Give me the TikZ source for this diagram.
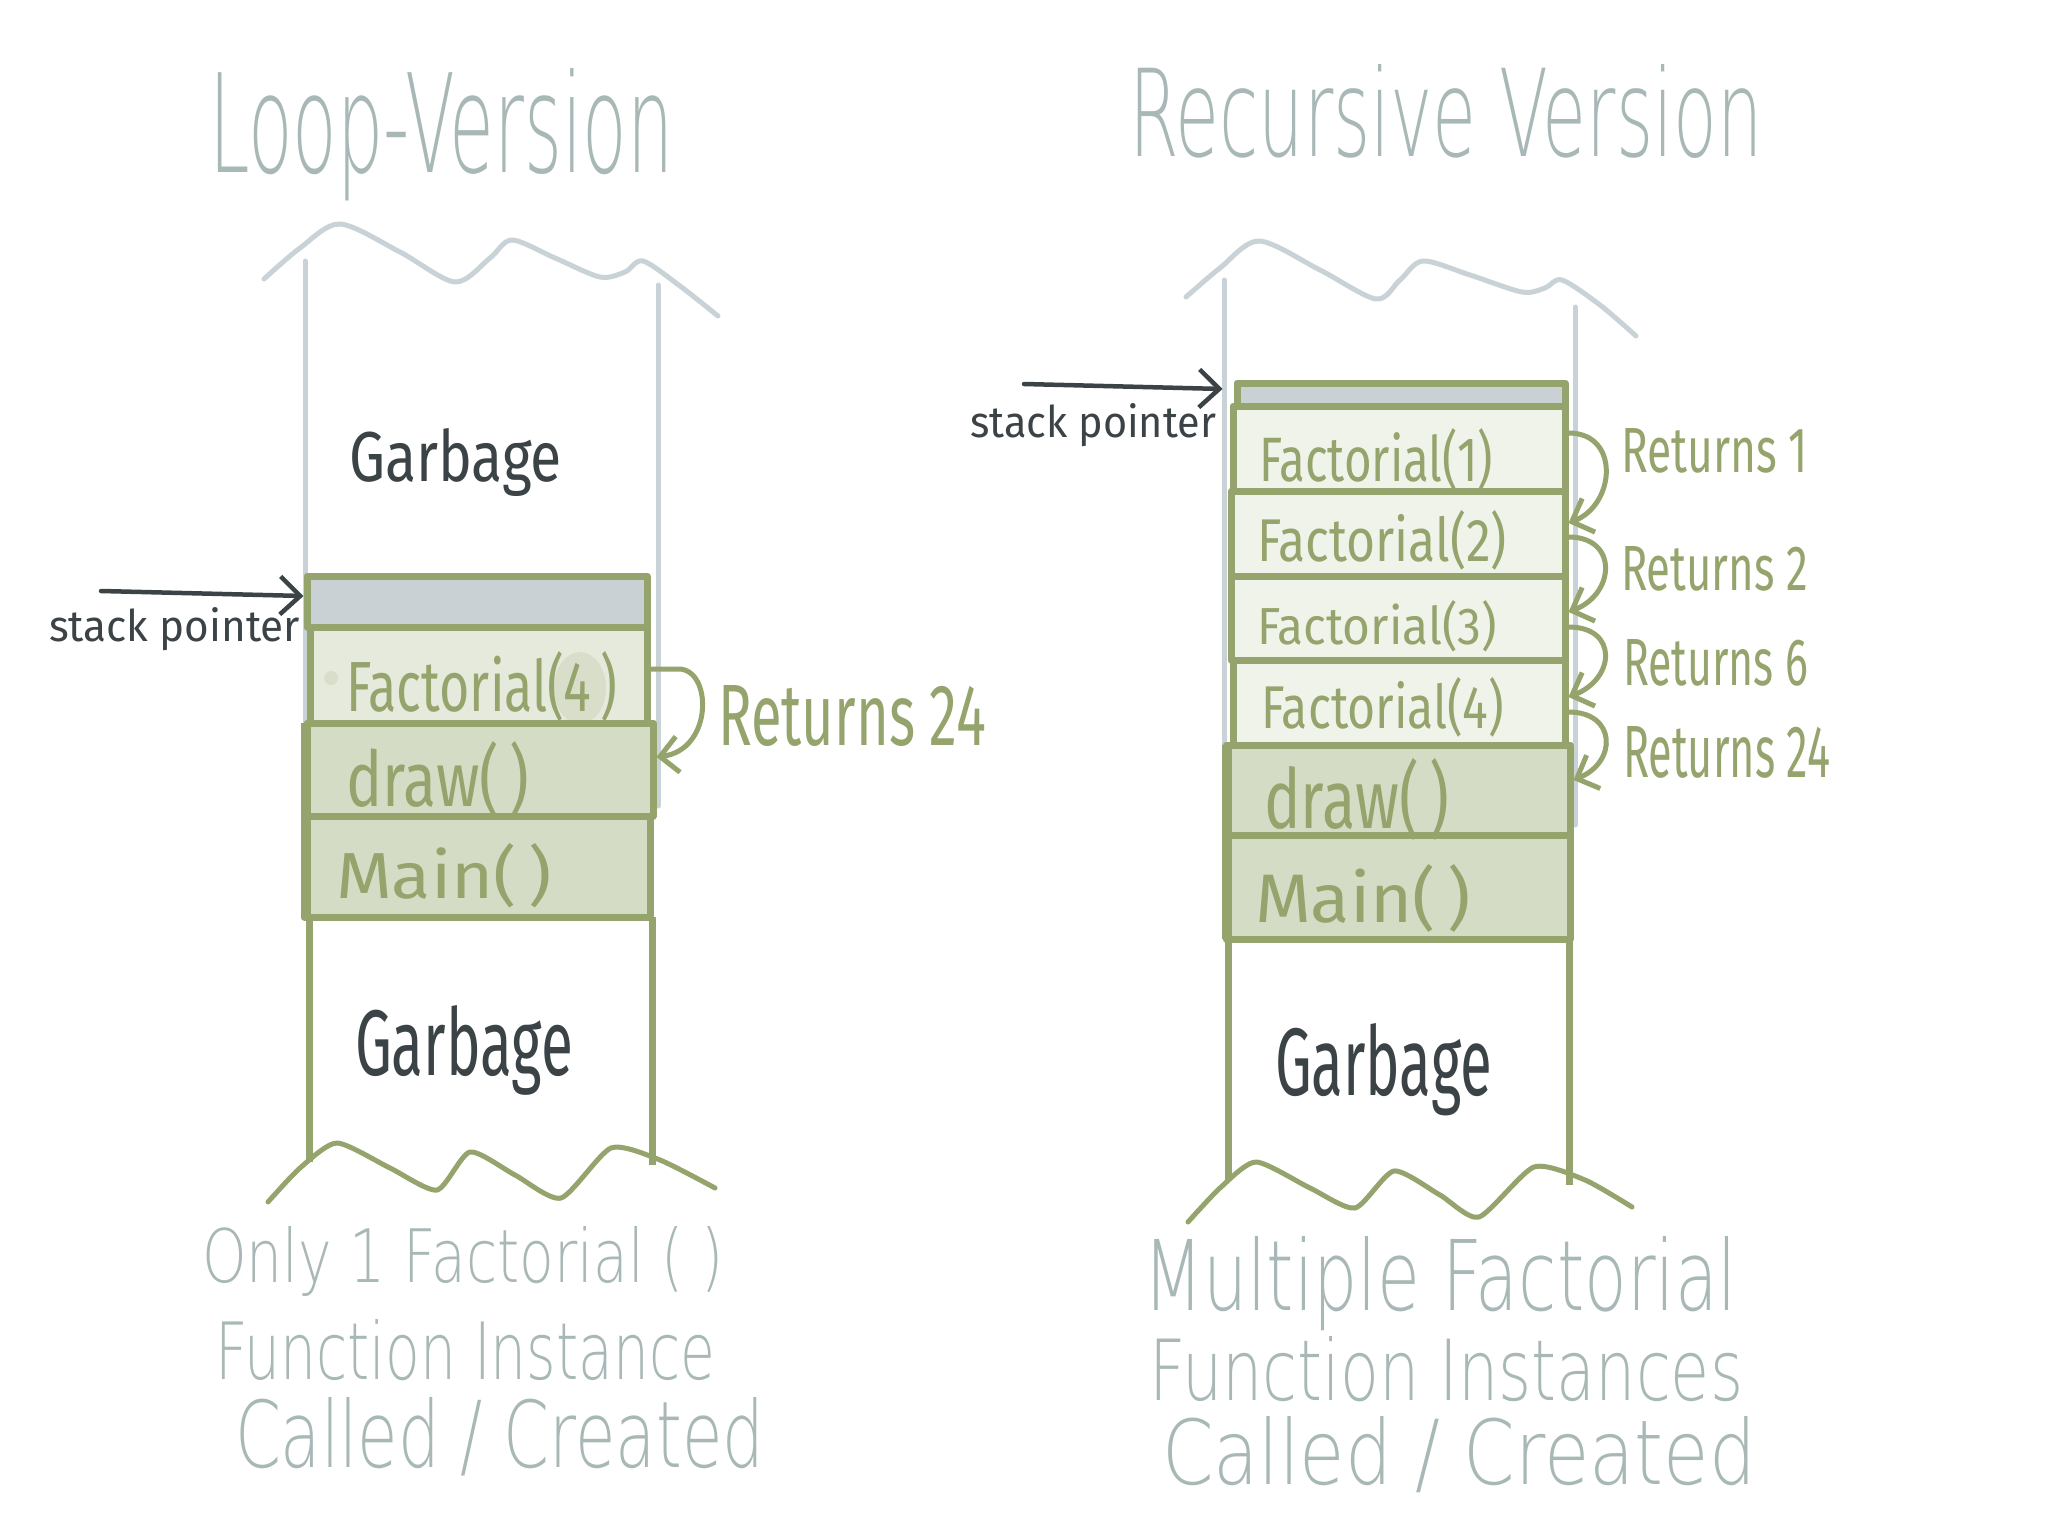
\documentclass[tikz,border=0pt]{standalone}
\usepackage{graphicx}
\usepackage{fontspec}
\usetikzlibrary{arrows.meta}

\newfontfamily\handfont{Fira Sans}
\IfFontExistsTF{DejaVu Sans ExtraLight}
  {\newfontfamily\thinfont{DejaVu Sans ExtraLight}}
  {\newfontfamily\thinfont{DejaVu Sans}}

\definecolor{leaf}{HTML}{95A46C}
\definecolor{capgray}{HTML}{C9D1D5}
\definecolor{railgray}{HTML}{C9D2D7}
\definecolor{paleleaf}{HTML}{E6EADC}
\definecolor{paleleafR}{HTML}{F0F3EA}
\definecolor{sage}{HTML}{D5DCC6}
\definecolor{inkdark}{HTML}{3B4346}
\definecolor{mist}{HTML}{A8B8B6}
\definecolor{smudge}{HTML}{D9DECB}

% text squeezed into a given width and height above the baseline
\newcommand\fitto[3]{\resizebox{#1pt}{#2pt}{#3}}

\tikzset{
  lbl/.style={anchor=base west, inner sep=0pt, outer sep=0pt},
  headline/.style={lbl, text=mist, font=\thinfont},
  inklbl/.style={lbl, text=inkdark, font=\handfont},
  leaflbl/.style={lbl, text=leaf, font=\handfont},
  frame/.style={draw=leaf, line width=7pt, line join=round, inner sep=0pt},
  rail/.style={draw=railgray, line width=5pt, line cap=round},
  leafrail/.style={draw=leaf, line width=7pt},
  wave/.style={line width=5pt, line cap=round, line join=round},
  ptr/.style={draw=inkdark, line width=4.5pt, line cap=round,
    -{Straight Barb[length=20pt, width=38pt, line width=4.5pt]}},
  ret/.style={draw=leaf, line width=5pt, line cap=round,
    -{Straight Barb[length=18pt, width=36pt, line width=5pt]}},
}

\begin{document}
\begin{tikzpicture}[x=1pt, y=-1pt]
\useasboundingbox (0,0) rectangle (2048,1536);
\fill[white] (0,0) rectangle (2048,1536);

% ---------------- loop version ----------------
\node[headline] (titleL) at (209,172) {\fitto{464}{104}{Loop-Version}};

% memory column edges and torn top
\draw[rail] (305,261) -- (305,791);
\draw[rail] (658,285) -- (658,806);
\draw[rail, wave] plot[smooth, tension=0.5] coordinates
  {(264,279) (300,248) (340,224) (400,252) (455,282) (490,258) (512,240)
   (555,258) (600,277) (625,272) (643,261) (680,286) (718,316)};

\node[inklbl] (garbTopL) at (349,481) {\fitto{213}{53}{Garbage}};

% stack frames
\node[frame, fill=capgray, minimum width=340pt, minimum height=51pt] (capL) at (477,601.5) {};
\node[frame, fill=paleleaf, minimum width=337pt, minimum height=96pt] (factL) at (478.5,675) {};
\fill[smudge] (580,688) ellipse (26pt and 36pt);
\fill[smudge] (331,678) circle (7pt);
\node[frame, fill=sage, minimum width=346pt, minimum height=93pt] (drawL) at (480,769.5) {};
\node[frame, fill=sage, minimum width=346pt, minimum height=101pt] (mainL) at (477,866.5) {};
\draw[leaf, line width=10pt] (306,723) -- (306,917);

\node[leaflbl] (factLtxt) at (346,711) {\fitto{271}{60}{Factorial(4\,)}};
\node[leaflbl] (drawLtxt) at (346,806) {\fitto{183}{65}{draw(\,)}};
\node[leaflbl] (mainLtxt) at (336,898) {\fitto{216}{55}{Main(\,)}};

% stack pointer
\coordinate (spL) at (101,591);
\draw[ptr] (spL) -- ([yshift=5.5pt]capL.west);
\node[inklbl] (spLtxt) at (49,641) {\fitto{251}{34}{stack pointer}};

% return of the single call
\draw[ret] ([yshift=6pt]factL.east) -- ++(28,0)
  .. controls +(34,0) and +(57,-7) .. ([yshift=12.5pt]drawL.east);
\node[leaflbl] (retL) at (718,745) {\fitto{268}{60}{Returns 24}};

% lower part of the column
\draw[leafrail] (309,917) -- (309,1162);
\draw[leafrail] (652,917) -- (652,1165);
\node[inklbl] (garbLowL) at (355,1075) {\fitto{218}{70}{Garbage}};
\draw[leaf, wave] plot[smooth, tension=0.4] coordinates
  {(268,1202) (300,1168) (337,1143) (390,1168) (437,1190) (470,1152)
   (515,1175) (561,1198) (611,1148) (660,1160) (715,1188)};

\node[headline] (capL1) at (202,1282) {\fitto{522}{56}{Only 1 Factorial ( )}};
\node[headline] (capL2) at (215,1379) {\fitto{500}{60}{Function Instance}};
\node[headline] (capL3) at (235,1467) {\fitto{529}{70}{Called / Created}};

% ---------------- recursive version ----------------
\node[headline] (titleR) at (1129,157) {\fitto{633}{92}{Recursive Version}};

\draw[rail] (1224,280) -- (1224,830);
\draw[rail] (1575,307) -- (1575,825);
\draw[rail, wave] plot[smooth, tension=0.5] coordinates
  {(1186,297) (1220,268) (1259,241) (1320,270) (1376,299) (1400,280) (1423,261)
   (1470,275) (1522,292) (1545,288) (1562,280) (1600,305) (1636,336)};

\node[frame, fill=capgray, minimum width=328pt, minimum height=23pt] (capR) at (1401,394.5) {};
\node[frame, fill=paleleafR, minimum width=332pt, minimum height=85pt] (f1R) at (1399,448.5) {};
\node[frame, fill=paleleafR, minimum width=334pt, minimum height=85pt] (f2R) at (1398,533.5) {};
\node[frame, fill=paleleafR, minimum width=334pt, minimum height=84pt] (f3R) at (1398,618) {};
\node[frame, fill=paleleafR, minimum width=332pt, minimum height=85pt] (f4R) at (1399,702.5) {};
\node[frame, fill=sage, minimum width=344pt, minimum height=90pt] (drawR) at (1398,790) {};
\node[frame, fill=sage, minimum width=344pt, minimum height=104pt] (mainR) at (1398,887) {};
\draw[leaf, line width=10pt] (1227,745) -- (1227,939);

\node[leaflbl] (f1Rtxt) at (1259,481) {\fitto{234}{53}{Factorial(1)}};
\node[leaflbl] (f2Rtxt) at (1257,561) {\fitto{250}{51}{Factorial(2)}};
\node[leaflbl] (f3Rtxt) at (1257,644) {\fitto{240}{44}{Factorial(3)}};
\node[leaflbl] (f4Rtxt) at (1261,728) {\fitto{243}{51}{Factorial(4)}};
\node[leaflbl] (drawRtxt) at (1264,828) {\fitto{185}{70}{draw(\,)}};
\node[leaflbl] (mainRtxt) at (1255,922) {\fitto{216}{58}{Main(\,)}};

\coordinate (spR) at (1024,384);
\draw[ptr] (spR) -- ([xshift=-11pt, yshift=5.5pt]capR.west);
\node[inklbl] (spRtxt) at (970,437) {\fitto{246}{34}{stack pointer}};

% returns travelling down the chain of calls
\draw[ret] ([yshift=15.5pt]f1R.east) .. controls +(52,0) and +(47,-18) .. ([yshift=10.5pt]f2R.east);
\draw[ret] ([yshift=-3.5pt]f2R.east) .. controls +(50,0) and +(47,-18) .. ([yshift=6pt]f3R.east);
\draw[ret] ([yshift=-9pt]f3R.east) .. controls +(50,0) and +(47,-18) .. ([yshift=5.5pt]f4R.east);
\draw[ret] ([yshift=-9.5pt]f4R.east) .. controls +(48,0) and +(44,-18) .. ([yshift=10pt]drawR.east);

\node[leaflbl] (ret1) at (1621,472) {\fitto{187}{44}{Returns 1}};
\node[leaflbl] (ret2) at (1621,590) {\fitto{187}{44}{Returns 2}};
\node[leaflbl] (ret6) at (1623,685) {\fitto{185}{46}{Returns 6}};
\node[leaflbl] (ret24) at (1623,777) {\fitto{207}{51}{Returns 24}};

\draw[leafrail] (1228,939) -- (1228,1180);
\draw[leafrail] (1569,939) -- (1569,1185);
\node[inklbl] (garbLowR) at (1275,1095) {\fitto{217}{72}{Garbage}};
\draw[leaf, wave] plot[smooth, tension=0.4] coordinates
  {(1188,1222) (1220,1188) (1256,1162) (1310,1188) (1355,1208) (1394,1171)
   (1440,1195) (1479,1217) (1534,1167) (1585,1180) (1632,1207)};

\node[headline] (capR1) at (1143,1310) {\fitto{594}{74}{Multiple Factorial}};
\node[headline] (capR2) at (1149,1400) {\fitto{594}{64}{Function Instances}};
\node[headline] (capR3) at (1162,1484) {\fitto{594}{68}{Called / Created}};
\end{tikzpicture}
\end{document}
